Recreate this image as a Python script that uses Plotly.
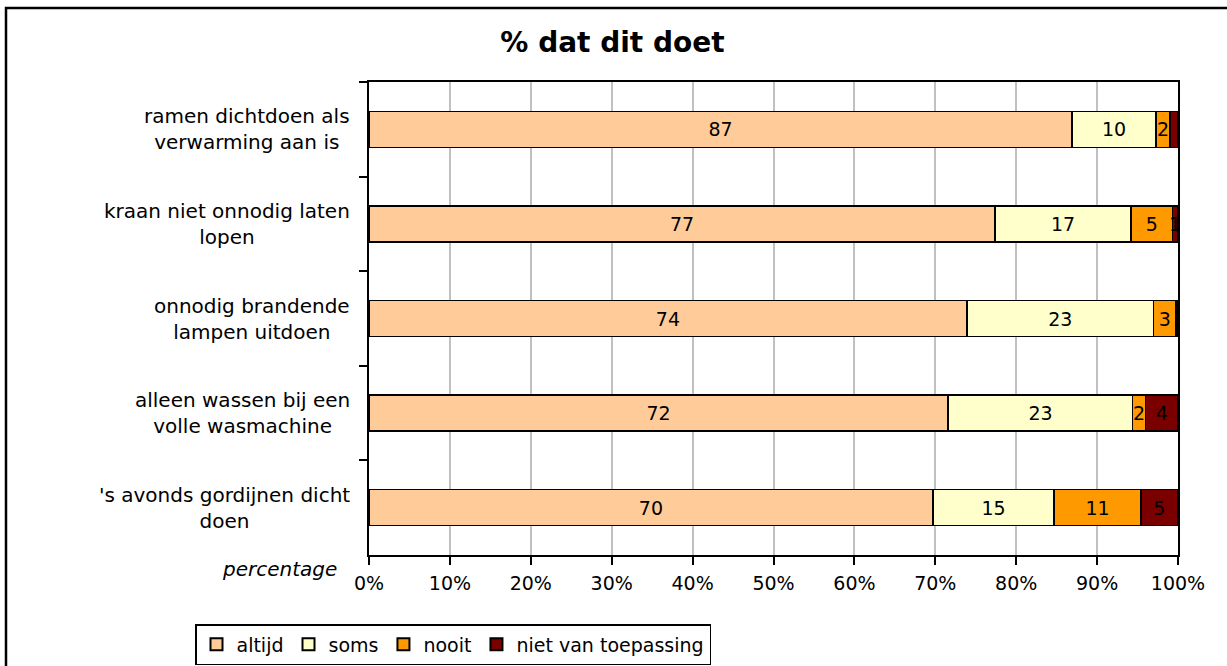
import plotly.graph_objects as go

categories = [
    "ramen dichtdoen als<br>verwarming aan is",
    "kraan niet onnodig laten<br>lopen",
    "onnodig brandende<br>lampen uitdoen",
    "alleen wassen bij een<br>volle wasmachine",
    "'s avonds gordijnen dicht<br>doen",
]
series_names = ["altijd", "soms", "nooit", "niet van toepassing"]
altijd = [86.9, 77.4, 73.9, 71.6, 69.7]
soms = [10.4, 16.8, 23.1, 22.8, 15.0]
nooit = [1.7, 5.1, 2.75, 1.6, 10.7]
niet_van_toepassing = [1.0, 0.7, 0.25, 4.0, 4.6]
x_ticks = [0, 10, 20, 30, 40, 50, 60, 70, 80, 90, 100]
x_ticktext = [f"{v}%" for v in x_ticks]

colors = ["#FFCC99", "#FFFFCC", "#FF9900", "#7A0000"]
FONT = "DejaVu Sans"

L, R, T, B = 369, 49, 82, 111
W, H = 1227, 666
pw, ph = W - L - R, H - T - B

fig = go.Figure()
for name, vals, col in zip(series_names, [altijd, soms, nooit, niet_van_toepassing], colors):
    labels = [str(round(v)) if round(v) > 0 else "" for v in vals]
    fig.add_trace(go.Bar(
        y=categories, x=vals, name=name, orientation="h",
        marker=dict(color=col, line=dict(color="black", width=1.5)),
        text=labels, textposition="inside", insidetextanchor="middle",
        textangle=0, constraintext="none",
        textfont=dict(family=FONT, size=19, color="black"),
        cliponaxis=False,
    ))

fig.update_layout(
    barmode="stack",
    bargap=0.62,
    width=W, height=H,
    margin=dict(l=L, r=R, t=T, b=B, autoexpand=False),
    paper_bgcolor="white", plot_bgcolor="white",
    font=dict(family=FONT, size=19, color="black"),
    title=dict(text="<b>% dat dit doet</b>", x=612.5 / W, xanchor="center",
               y=1 - 42 / H, yanchor="middle", yref="container",
               font=dict(family=FONT, size=28, color="black")),
    showlegend=True,
    legend=dict(orientation="h", xref="container", x=195 / W, xanchor="left",
                yref="container", y=1 - 624 / H, yanchor="top",
                bordercolor="black", borderwidth=1.5,
                font=dict(family=FONT, size=19, color="black"),
                traceorder="normal", itemsizing="constant",
                tracegroupgap=0),
    xaxis=dict(range=[0, 100], tickvals=x_ticks, ticktext=x_ticktext,
               showgrid=True, gridcolor="#C0C0C0", gridwidth=1.5,
               showline=True, linecolor="black", linewidth=2, mirror=True,
               ticks="outside", ticklen=8, tickwidth=2, tickcolor="black",
               ticklabelstandoff=2,
               tickfont=dict(family=FONT, size=19), zeroline=False),
    yaxis=dict(autorange="reversed", showticklabels=False,
               showline=True, linecolor="black", linewidth=2, mirror=True,
               ticks="outside", ticklen=8, tickwidth=2, tickcolor="black",
               tickson="boundaries", showgrid=False),
)

for cat in categories:
    fig.add_annotation(x=(352 - L) / pw, xref="paper", y=cat, yref="y",
                       text=cat, showarrow=False, xanchor="right", align="center",
                       font=dict(family=FONT, size=20, color="black"))

fig.add_annotation(x=(339 - L) / pw, xref="paper", y=(H - B - 569) / ph, yref="paper",
                   text="<i>percentage</i>", showarrow=False, xanchor="right",
                   yanchor="middle", font=dict(family=FONT, size=20, color="black"))

fig.add_shape(type="rect", xref="paper", yref="paper",
              x0=(6 - L) / pw, x1=(1240 - L) / pw,
              y0=(H - B - 680) / ph, y1=(H - B - 8) / ph,
              line=dict(color="black", width=2.5), layer="below")

fig.write_html("out.html", config={"displayModeBar": False},
               post_script="document.body.style.margin='0';document.body.style.overflow='hidden';")
